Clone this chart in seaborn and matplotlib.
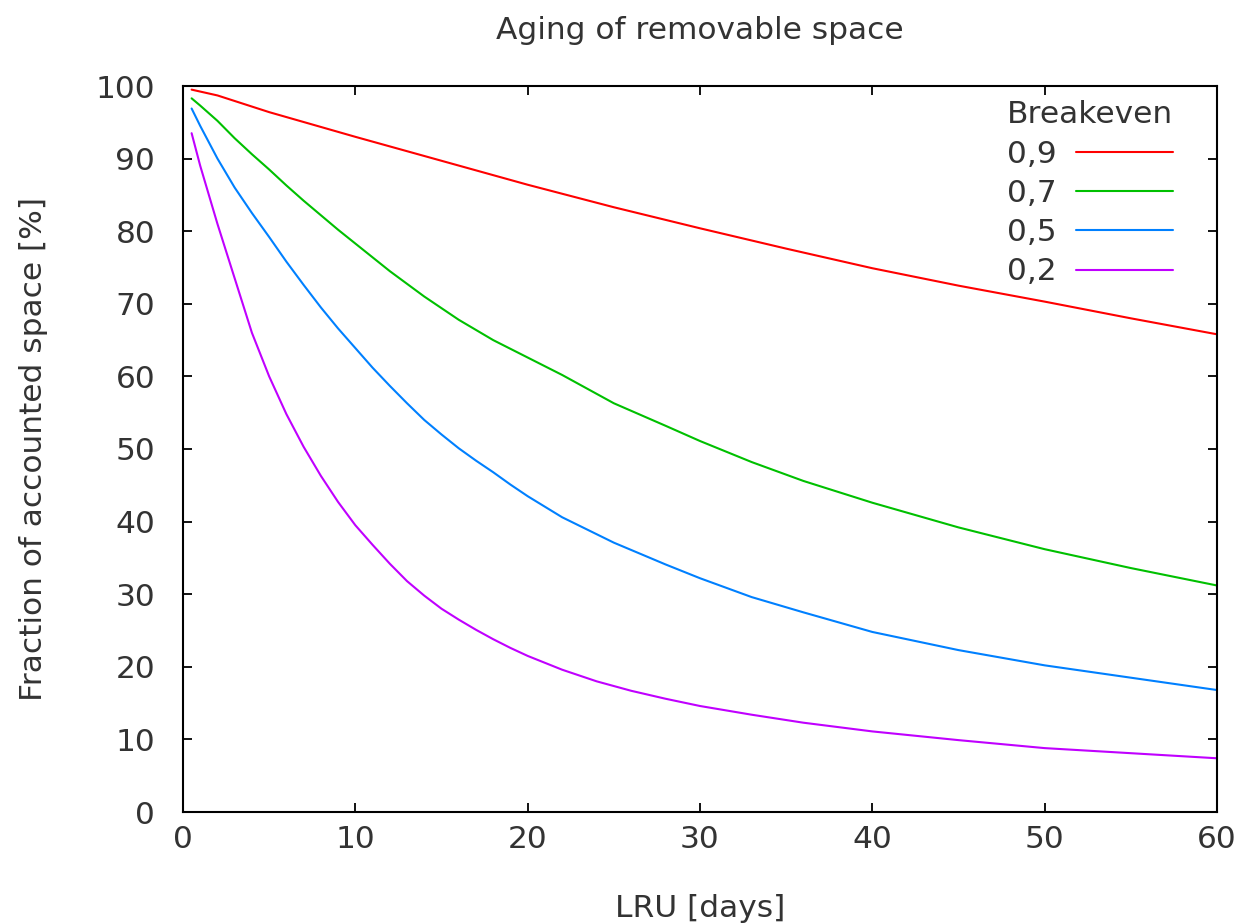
import numpy as np
import pandas as pd
import matplotlib
matplotlib.use("Agg")
import matplotlib.pyplot as plt
import seaborn as sns

# ---- data ----
days_09 = [0.5, 2, 5, 10, 15, 20, 25, 30, 35, 40, 45, 50, 55, 60]
vals_09 = [99.5, 98.7, 96.4, 93.0, 89.7, 86.4, 83.3, 80.4, 77.6, 74.9, 72.5, 70.3, 68.0, 65.8]

days_07 = [0.5, 1, 2, 3, 4, 5, 6, 7, 8, 9, 10, 12, 14, 16, 18, 20, 22, 25, 28, 30, 33, 36, 40, 45, 50, 55, 60]
vals_07 = [98.3, 97.3, 95.2, 92.8, 90.6, 88.5, 86.3, 84.2, 82.2, 80.2, 78.3, 74.5, 71.0, 67.8, 65.0, 62.6,
           60.2, 56.3, 53.2, 51.1, 48.2, 45.6, 42.6, 39.2, 36.2, 33.6, 31.2]

days_05 = [0.5, 1, 2, 3, 4, 5, 6, 7, 8, 9, 10, 11, 12, 13, 14, 15, 16, 17, 18, 19, 20, 22, 25, 28, 30,
           33, 36, 40, 45, 50, 55, 60]
vals_05 = [96.9, 94.5, 90.0, 86.0, 82.5, 79.2, 75.8, 72.6, 69.5, 66.6, 63.9, 61.2, 58.7, 56.3, 54.0, 52.0,
           50.1, 48.4, 46.8, 45.1, 43.5, 40.6, 37.1, 34.1, 32.2, 29.6, 27.5, 24.8, 22.3, 20.2, 18.5, 16.8]

days_02 = [0.5, 1, 2, 3, 4, 5, 6, 7, 8, 9, 10, 11, 12, 13, 14, 15, 16, 17, 18, 19, 20, 22, 24, 26, 28,
           30, 33, 36, 40, 45, 50, 55, 60]
vals_02 = [93.5, 89.0, 81.0, 73.5, 66.0, 60.0, 54.8, 50.3, 46.3, 42.7, 39.5, 36.8, 34.2, 31.8, 29.8, 28.0,
           26.5, 25.1, 23.8, 22.6, 21.5, 19.6, 18.0, 16.7, 15.6, 14.6, 13.4, 12.3, 11.1, 9.9, 8.8, 8.1, 7.4]

series_labels = ["0,9", "0,7", "0,5", "0,2"]
series_colors = ["#ff0000", "#00c000", "#0080ff", "#c000ff"]
x_ticks = [0, 10, 20, 30, 40, 50, 60]
y_ticks = [0, 10, 20, 30, 40, 50, 60, 70, 80, 90, 100]

frames = []
for lab, d, v in zip(series_labels, [days_09, days_07, days_05, days_02],
                     [vals_09, vals_07, vals_05, vals_02]):
    frames.append(pd.DataFrame({"LRU": d, "Fraction": v, "Breakeven": lab}))
df = pd.concat(frames, ignore_index=True)

sns.set_theme(style="ticks")
plt.rcParams["font.family"] = ["DejaVu Sans"]
text_color = "#333333"
FS = 22.5

fig = plt.figure(figsize=(12.39, 9.24), dpi=100)
ax = fig.add_axes([183 / 1239, 1 - 812 / 924, (1217 - 183) / 1239, (812 - 86) / 924])

sns.lineplot(data=df, x="LRU", y="Fraction", hue="Breakeven", hue_order=series_labels,
             palette=dict(zip(series_labels, series_colors)), linewidth=1.5, ax=ax,
             estimator=None, sort=True)

ax.set_xlim(0, 60)
ax.set_ylim(0, 100)
ax.set_xticks(x_ticks)
ax.set_yticks(y_ticks)
ax.tick_params(direction="in", length=6.5, width=1.3, top=True, right=True,
               labelsize=FS, colors="black", labelcolor=text_color)
ax.tick_params(axis="x", pad=9)
ax.tick_params(axis="y", pad=20)
for s in ax.spines.values():
    s.set_visible(True)
    s.set_linewidth(1.5)
    s.set_color("black")

ax.set_xlabel("LRU [days]", fontsize=FS, color=text_color, labelpad=29)
ax.set_ylabel("Fraction of accounted space [%]", fontsize=FS, color=text_color, labelpad=34)
ax.set_title("Aging of removable space", fontsize=FS, color=text_color, pad=34)

leg = ax.legend(title="Breakeven", loc="upper right", bbox_to_anchor=(0.9632, 0.989),
                frameon=False, markerfirst=False,
                fontsize=FS, title_fontsize=FS, handlelength=3.1, handletextpad=0.6,
                labelspacing=0.33, borderaxespad=0.0, borderpad=0.2, alignment="right")
for t in leg.get_texts():
    t.set_color(text_color)
leg.get_title().set_color(text_color)

fig.savefig("out.png", dpi=100)
